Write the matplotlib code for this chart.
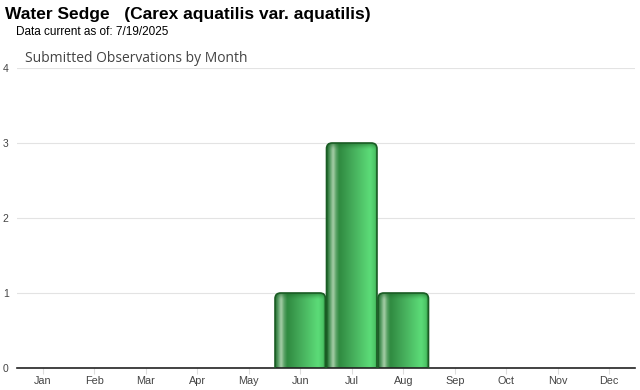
import numpy as np
import matplotlib
matplotlib.use("Agg")
import matplotlib.pyplot as plt
from matplotlib.patches import FancyBboxPatch
from matplotlib.colors import LinearSegmentedColormap

months = ["Jan", "Feb", "Mar", "Apr", "May", "Jun", "Jul", "Aug", "Sep", "Oct", "Nov", "Dec"]
counts = [0, 0, 0, 0, 0, 1, 3, 1, 0, 0, 0, 0]
yticks = [0, 1, 2, 3, 4]

title = "Water Sedge   (Carex aquatilis var. aquatilis)"
subtitle = "Data current as of: 7/19/2025"
chart_title = "Submitted Observations by Month"

fig = plt.figure(figsize=(6.4, 3.9), dpi=100)
W, H = 640, 390
ax = fig.add_axes([17 / W, (H - 368) / H, (635 - 17) / W, (368 - 68) / H])

ax.set_xlim(-0.5, 11.5)
ax.set_ylim(0, 4)
ax.set_yticks(yticks)
ax.set_yticklabels([str(v) for v in yticks])
ax.set_xticks(range(len(months)))
ax.set_xticklabels(months)
ax.grid(axis="y", color="#e3e3e3", linewidth=0.8)
ax.set_axisbelow(True)
for s in ["top", "right", "left"]:
    ax.spines[s].set_visible(False)
ax.spines["bottom"].set_color("#222222")
ax.spines["bottom"].set_linewidth(1.2)
ax.tick_params(axis="y", length=0, labelsize=7.5, labelcolor="#444444", pad=6)
ax.tick_params(axis="x", length=4, color="#dddddd", labelsize=7.8, labelcolor="#444444", pad=2)
for lab in ax.get_xticklabels() + ax.get_yticklabels():
    lab.set_family("Liberation Sans")

cmap = LinearSegmentedColormap.from_list("bar", [
    (0.0, "#1d6a2a"), (0.06, "#5a9e66"), (0.12, "#a9d0aa"), (0.18, "#5aa266"),
    (0.24, "#2f8a40"), (0.5, "#45ac5a"), (0.85, "#5cdc78"), (0.95, "#4bc464"), (1.0, "#1d6a2a")])
grad = np.linspace(0, 1, 256).reshape(1, -1)

# dark top fade overlay
fade = np.zeros((32, 1, 4))
fade[..., 0] = 0x1d / 255
fade[..., 1] = 0x6a / 255
fade[..., 2] = 0x2a / 255
fade[:, 0, 3] = np.linspace(0.75, 0.0, 32) ** 1.5

bw = 0.98
xr = 0.11
aspect = (1 / 75) / (1 / 51.5)
top_h = 7 / 75
for i, v in enumerate(counts):
    if v <= 0:
        continue
    x0 = i - bw / 2
    patch = FancyBboxPatch((x0, -0.2), bw, v + 0.2,
                           boxstyle=f"round,pad=0,rounding_size={xr}",
                           mutation_aspect=aspect,
                           facecolor="none", edgecolor="#1a5c24", linewidth=1.2, zorder=4)
    ax.add_patch(patch)
    im = ax.imshow(grad, cmap=cmap, extent=(x0, x0 + bw, -0.2, v), aspect="auto",
                   interpolation="bicubic", zorder=2)
    im.set_clip_path(patch)
    im2 = ax.imshow(fade, extent=(x0, x0 + bw, v - top_h, v), aspect="auto",
                    interpolation="bilinear", zorder=3, origin="upper")
    im2.set_clip_path(patch)

ax.set_aspect("auto")
ax.set_xlim(-0.5, 11.5)
ax.set_ylim(0, 4)

fig.text(5 / W, 1 - 15 / H, title, fontsize=12.5, fontweight="bold",
         family="Liberation Sans", va="center", ha="left", color="#000000")
fig.text(16 / W, 1 - 32 / H, subtitle, fontsize=8.5, family="Liberation Sans",
         va="center", ha="left", color="#000000")
fig.text(25 / W, 1 - 58 / H, chart_title, fontsize=10, family="Open Sans",
         va="center", ha="left", color="#444444")

fig.savefig("out.png", dpi=100)
